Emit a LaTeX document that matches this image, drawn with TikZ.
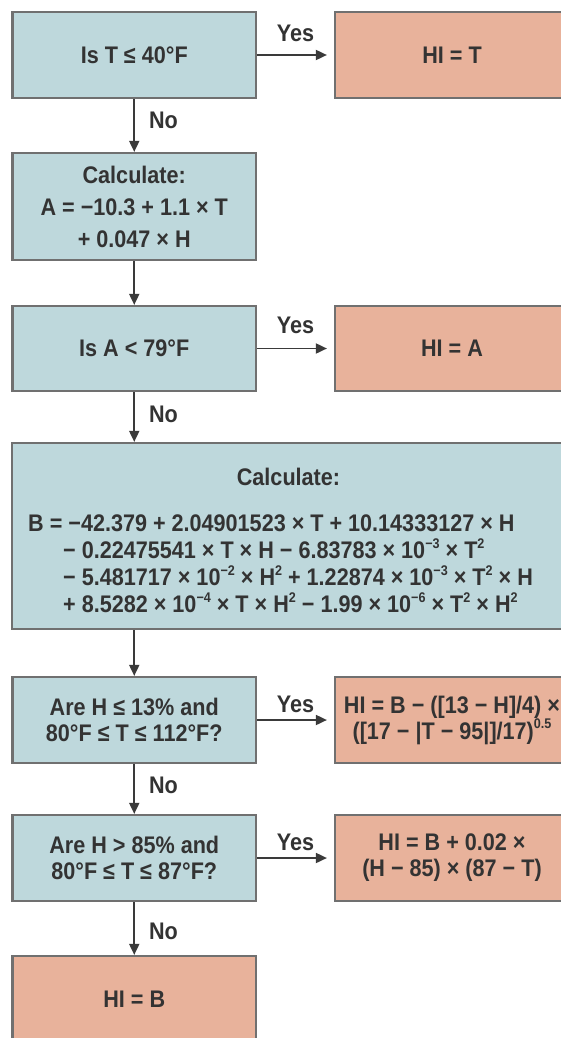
\documentclass[tikz,border=0pt]{standalone}
\usepackage{fontspec}
\setmainfont{Liberation Sans}[FakeStretch=0.9]
\usetikzlibrary{arrows.meta,calc}
\definecolor{boxblue}{HTML}{BED8DC}
\definecolor{boxsalmon}{HTML}{E8B29B}
\definecolor{edgegray}{HTML}{707070}
\definecolor{txtcol}{HTML}{333333}
\definecolor{arrowgray}{HTML}{3A3A3A}
\newcommand{\supx}[1]{\raisebox{0.42em}{\fontsize{14}{14}\selectfont #1}}
\begin{document}
\begin{tikzpicture}[x=1pt,y=-1pt,
  box/.style={draw=edgegray, line width=2.2pt, inner sep=0pt, text=txtcol,
    font=\fontsize{24}{26}\selectfont\bfseries, align=center},
  qbox/.style={box, fill=boxblue, minimum width=243.5pt, minimum height=86pt},
  rbox/.style={box, fill=boxsalmon, minimum width=234pt, minimum height=86pt},
  arr/.style={draw=arrowgray, line width=1.8pt, -{Triangle[length=11pt,width=10pt]}},
  harr/.style={arr, shorten >=7pt},
  lbl/.style={text=txtcol, font=\fontsize{24}{26}\selectfont\bfseries, inner sep=0pt}
]
\useasboundingbox (0,0) rectangle (561,1038);
\clip (0,0) rectangle (561,1038);

% row 1
\node[qbox] (q1) at (134.25,55) {Is T ≤ 40°F};
\node[rbox] (r1) at (452,55) {HI = T};
% row 2
\node[qbox, minimum height=107pt, font=\fontsize{24}{32}\selectfont\bfseries] (q2) at (134.25,206.5)
  {Calculate:\\A = −10.3 + 1.1 × T\\+ 0.047 × H};
% row 3
\node[qbox, minimum height=85pt] (q3) at (134.25,348.5) {Is A < 79°F};
\node[rbox, minimum height=85pt] (r3) at (452,348.5) {HI = A};
% row 4
\node[qbox, minimum width=553pt, minimum height=186pt] (q4) at (288.5,536) {};
\node[lbl] (q4title) at (288.5,477) {Calculate:};
\node[lbl, anchor=west, align=left, font=\fontsize{24}{27}\selectfont\bfseries] (q4formula) at (28,564)
  {B = −42.379 + 2.04901523 × T + 10.14333127 × H\\
   \hspace*{35pt}− 0.22475541 × T × H − 6.83783 × 10\supx{−3} × T\supx{2}\\
   \hspace*{35pt}− 5.481717 × 10\supx{−2} × H\supx{2} + 1.22874 × 10\supx{−3} × T\supx{2} × H\\
   \hspace*{35pt}+ 8.5282 × 10\supx{−4} × T × H\supx{2} − 1.99 × 10\supx{−6} × T\supx{2} × H\supx{2}};
% row 5
\node[qbox] (q5) at (134.25,720) {Are H ≤ 13\% and\\80°F ≤ T ≤ 112°F?};
\node[rbox] (r5) at (452,720) {HI = B − ([13 − H]/4) ×\\([17 − |T − 95|]/17)\supx{0.5}};
% row 6
\node[qbox] (q6) at (134.25,858) {Are H > 85\% and\\80°F ≤ T ≤ 87°F?};
\node[rbox] (r6) at (452,858) {HI = B + 0.02 ×\\(H − 85) × (87 − T)};
% row 7
\node[qbox, fill=boxsalmon] (r7) at (134.25,999) {HI = B};

% connectors
\draw[harr] (q1.east) -- node[lbl, midway, yshift=22pt] {Yes} (r1.west);
\draw[arr] (q1.south) -- node[lbl, midway, anchor=west, xshift=14pt, yshift=5pt] {No} (q2.north);
\draw[arr] (q2.south) -- (q3.north);
\draw[harr] (q3.east) -- node[lbl, midway, yshift=23pt] {Yes} (r3.west);
\draw[arr] (q3.south) -- node[lbl, midway, anchor=west, xshift=14pt, yshift=3pt] {No} (q4.north -| q3.south);
\draw[arr] (q4.south -| q3.south) -- (q5.north);
\draw[harr] (q5.east) -- node[lbl, midway, yshift=16pt] {Yes} (r5.west);
\draw[arr] (q5.south) -- node[lbl, midway, anchor=west, xshift=14pt, yshift=4pt] {No} (q6.north);
\draw[harr] (q6.east) -- node[lbl, midway, yshift=16pt] {Yes} (r6.west);
\draw[arr] (q6.south) -- node[lbl, midway, anchor=west, xshift=14pt, yshift=-3pt] {No} (r7.north);
\end{tikzpicture}
\end{document}
